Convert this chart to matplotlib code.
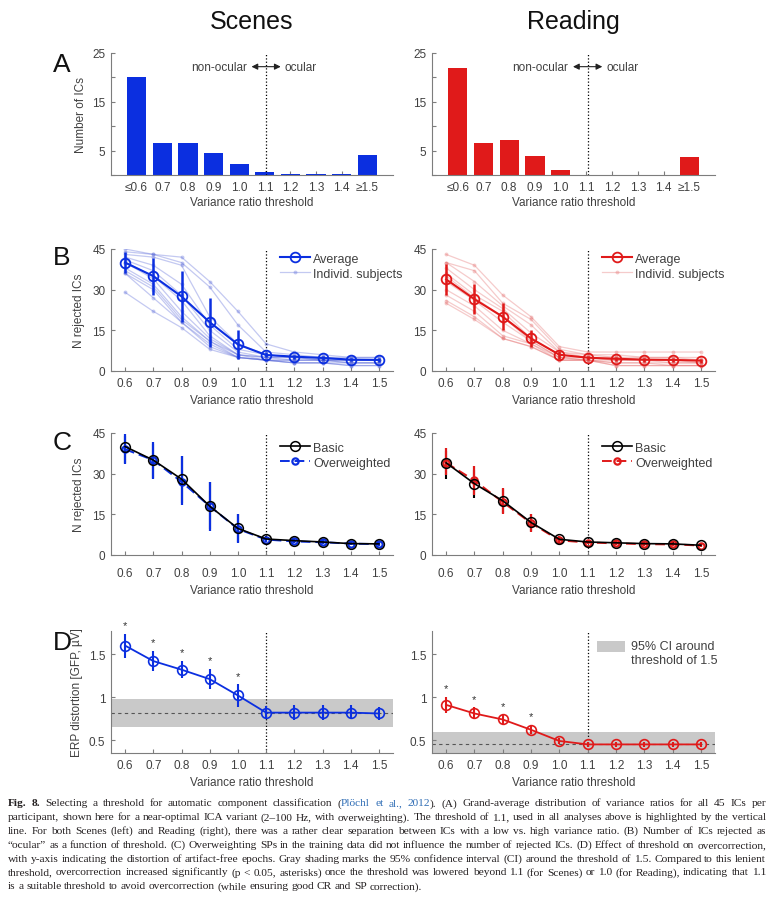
import numpy as np
import matplotlib.pyplot as plt
from matplotlib.lines import Line2D
from matplotlib.patches import Rectangle

plt.rcParams['font.family'] = ['Liberation Sans', 'DejaVu Sans']
plt.rcParams['font.size'] = 8.5

# ---------------- data ----------------
bin_labels = ['≤0.6', '0.7', '0.8', '0.9', '1.0', '1.1', '1.2', '1.3', '1.4', '≥1.5']
scenes_counts = [20.0, 6.5, 6.6, 4.5, 2.2, 0.6, 0.2, 0.3, 0.3, 4.2]
reading_counts = [22.0, 6.6, 7.2, 3.9, 1.1, 0.0, 0.1, 0.1, 0.1, 3.7]

thresholds = [0.6, 0.7, 0.8, 0.9, 1.0, 1.1, 1.2, 1.3, 1.4, 1.5]
tick_labels = ['0.6', '0.7', '0.8', '0.9', '1.0', '1.1', '1.2', '1.3', '1.4', '1.5']

# B: rejected ICs, average +- CI and individual subjects
scenes_avg = [40, 35, 27.5, 18, 9.8, 5.9, 5.3, 4.8, 4.2, 4.1]
scenes_lo = [36, 28, 18, 9, 4.5, 5.0, 4.6, 4.1, 3.6, 3.5]
scenes_hi = [44, 41.5, 37, 27, 15, 6.9, 6.0, 5.5, 4.9, 4.8]
scenes_subjects = [
    [45, 43, 42, 33, 22, 10, 7, 6, 5, 5],
    [44, 43, 40, 31, 17, 7, 6, 5, 5, 5],
    [43, 42, 39, 20, 10, 6, 5, 5, 4, 4],
    [42, 39, 32, 17, 8, 6, 5, 5, 4, 4],
    [41, 37, 28, 15, 7, 5, 5, 4, 4, 4],
    [40, 35, 26, 13, 6, 5, 5, 4, 4, 4],
    [40, 34, 22, 12, 6, 5, 4, 4, 4, 4],
    [38, 32, 20, 11, 6, 4, 4, 4, 3, 3],
    [37, 31, 19, 11, 5, 4, 4, 4, 3, 3],
    [36, 30, 18, 10, 5, 4, 3, 3, 3, 3],
    [36, 27, 18, 9, 5, 4, 3, 3, 2, 2],
    [29, 22, 16, 8, 5, 4, 3, 3, 2, 2],
]
reading_avg = [33.8, 26.5, 20, 12, 6, 4.9, 4.5, 4.2, 4.1, 3.8]
reading_lo = [28, 21, 15, 9, 4.6, 4.2, 3.8, 3.5, 3.4, 3.1]
reading_hi = [39.5, 32, 25, 15, 7.5, 5.6, 5.2, 4.9, 4.8, 4.5]
reading_subjects = [
    [43, 39, 28, 20, 9, 7, 7, 7, 7, 7],
    [40, 37, 25, 19, 8, 6, 6, 5, 5, 5],
    [40, 33, 24, 17, 7, 6, 5, 5, 5, 4],
    [38, 30, 23, 14, 7, 5, 5, 4, 4, 4],
    [36, 28, 22, 12, 6, 5, 4, 4, 4, 4],
    [35, 27, 20, 11, 5, 5, 4, 4, 4, 3],
    [33, 26, 18, 11, 5, 4, 4, 4, 3, 3],
    [30, 24, 15, 10, 5, 4, 3, 3, 3, 3],
    [28, 22, 13, 10, 4, 4, 3, 3, 2, 2],
    [26, 20, 12, 9, 4, 4, 2, 2, 2, 2],
    [25, 19, 12, 9, 4, 4, 2, 2, 2, 2],
]

# C: basic vs overweighted training data
scenes_basic = [40, 35, 28, 18, 9.8, 5.9, 5.3, 4.8, 4.2, 4.1]
scenes_basic_lo = [34, 28.5, 19, 9.5, 4.8, 5.0, 4.6, 4.1, 3.6, 3.5]
scenes_basic_hi = [44, 41, 36.5, 27, 15, 6.9, 6.0, 5.5, 4.9, 4.8]
scenes_over = [39, 35, 27, 18, 9.6, 5.7, 5.0, 4.7, 4.2, 4.0]
scenes_over_lo = [33.5, 28, 18.5, 9, 4.5, 4.9, 4.3, 4.0, 3.6, 3.4]
scenes_over_hi = [44.5, 41.5, 36.5, 27, 15, 6.6, 5.8, 5.4, 4.9, 4.7]
reading_basic = [34, 26.3, 20, 12, 5.8, 4.8, 4.5, 4.2, 4.1, 3.6]
reading_basic_lo = [28, 21, 15.5, 9, 4.8, 4.2, 3.8, 3.5, 3.4, 3.0]
reading_basic_hi = [38.5, 31.5, 24.5, 15, 7, 5.5, 5.2, 4.9, 4.8, 4.3]
reading_over = [34, 27.5, 19.5, 11.8, 5.4, 4.6, 4.3, 4.0, 3.9, 3.5]
reading_over_lo = [29.5, 22, 15, 8.5, 4.0, 4.0, 3.7, 3.4, 3.3, 2.9]
reading_over_hi = [39.5, 33, 24.8, 15.3, 7.0, 5.3, 5.0, 4.7, 4.6, 4.2]

# D: ERP distortion (GFP, uV)
scenes_dist = [1.60, 1.42, 1.32, 1.21, 1.02, 0.82, 0.82, 0.82, 0.82, 0.81]
scenes_dist_lo = [1.46, 1.30, 1.22, 1.10, 0.89, 0.74, 0.73, 0.73, 0.74, 0.73]
scenes_dist_hi = [1.74, 1.54, 1.42, 1.33, 1.15, 0.90, 0.91, 0.91, 0.91, 0.89]
scenes_sig = [1, 1, 1, 1, 1, 0, 0, 0, 0, 0]
scenes_ci = (0.65, 0.82, 0.98)
reading_dist = [0.91, 0.81, 0.74, 0.62, 0.49, 0.45, 0.45, 0.45, 0.45, 0.45]
reading_dist_lo = [0.82, 0.75, 0.68, 0.57, 0.45, 0.42, 0.42, 0.42, 0.42, 0.42]
reading_dist_hi = [1.00, 0.88, 0.80, 0.68, 0.53, 0.48, 0.48, 0.48, 0.48, 0.48]
reading_sig = [1, 1, 1, 1, 0, 0, 0, 0, 0, 0]
reading_ci = (0.34, 0.455, 0.59)

caption_lines = [
    "Fig. 8. Selecting a threshold for automatic component classification (Plöchl et al., 2012). (A) Grand-average distribution of variance ratios for all 45 ICs per",
    "participant, shown here for a near-optimal ICA variant (2–100 Hz, with overweighting). The threshold of 1.1, used in all analyses above is highlighted by the vertical",
    "line. For both Scenes (left) and Reading (right), there was a rather clear separation between ICs with a low vs. high variance ratio. (B) Number of ICs rejected as",
    "“ocular” as a function of threshold. (C) Overweighting SPs in the training data did not influence the number of rejected ICs. (D) Effect of threshold on overcorrection,",
    "with y-axis indicating the distortion of artifact-free epochs. Gray shading marks the 95% confidence interval (CI) around the threshold of 1.5. Compared to this lenient",
    "threshold, overcorrection increased significantly (p < 0.05, asterisks) once the threshold was lowered beyond 1.1 (for Scenes) or 1.0 (for Reading), indicating that 1.1",
    "is a suitable threshold to avoid overcorrection (while ensuring good CR and SP correction).",
]

# ---------------- styling ----------------
blue = '#0b2fe0'
red = '#e01a1a'
blue_light = '#5565d8'
red_light = '#e46a6a'
axis_gray = '#7d7d7d'
text_gray = '#404040'

W, H = 774, 904
fig = plt.figure(figsize=(W / 100, H / 100), dpi=100)


def px_axes(x0, y0, x1, y1):
    return fig.add_axes([x0 / W, 1 - y1 / H, (x1 - x0) / W, (y1 - y0) / H])


def style(ax):
    for s in ['top', 'right']:
        ax.spines[s].set_visible(False)
    for s in ['left', 'bottom']:
        ax.spines[s].set_color(axis_gray)
        ax.spines[s].set_linewidth(0.8)
    ax.tick_params(direction='in', length=3, width=0.8, color=axis_gray,
                   labelcolor=text_gray, labelsize=8.5, pad=4)


def thr_axis(ax, ylab_y=-0.19):
    ax.set_xlim(0.55, 1.55)
    ax.set_xticks(thresholds)
    ax.set_xticklabels(tick_labels)
    ax.axvline(1.1, color='k', ls=':', lw=0.9, zorder=1)
    ax.set_xlabel('Variance ratio threshold', color=text_gray)
    ax.xaxis.set_label_coords(0.5, ylab_y)


cols = [(111, 393), (432, 715)]
rows = {'A': (54, 176), 'B': (250, 372), 'C': (434, 556), 'D': (632, 754)}

# ---- A: histograms ----
for (x0, x1), counts, color in zip(cols, [scenes_counts, reading_counts], [blue, red]):
    ax = px_axes(x0, rows['A'][0], x1, rows['A'][1])
    style(ax)
    ax.set_axisbelow(True)
    pos = np.arange(1, len(counts) + 1)
    ax.bar(pos, counts, width=0.75, color=color, edgecolor='none')
    ax.set_xlim(0, 11)
    ax.set_ylim(0, 25)
    ax.set_yticks([0, 5, 10, 15, 20, 25])
    ax.set_yticklabels(['', '5', '', '15', '', '25'])
    ax.set_xticks(pos)
    ax.set_xticklabels(bin_labels)
    ax.axvline(6.05, color='k', ls=':', lw=0.9)
    ax.annotate('', xy=(5.48, 22.2), xytext=(6.62, 22.2),
                arrowprops=dict(arrowstyle='<|-|>', color='#222222', lw=0.8,
                                mutation_scale=9, shrinkA=0, shrinkB=0))
    ax.text(5.3, 22.2, 'non-ocular', ha='right', va='center', color=text_gray)
    ax.text(6.78, 22.2, 'ocular', ha='left', va='center', color=text_gray)
    ax.set_xlabel('Variance ratio threshold', color=text_gray)
    ax.xaxis.set_label_coords(0.5, -0.17)
    if color == blue:
        ax.set_ylabel('Number of ICs', color=text_gray)
        ax.yaxis.set_label_coords(-0.085, 0.5)

# ---- B: rejected ICs ----
for (x0, x1), subj, avg, lo, hi, color, light in zip(
        cols, [scenes_subjects, reading_subjects], [scenes_avg, reading_avg],
        [scenes_lo, reading_lo], [scenes_hi, reading_hi], [blue, red], [blue_light, red_light]):
    ax = px_axes(x0, rows['B'][0], x1, rows['B'][1])
    style(ax)
    for s in subj:
        ax.plot(thresholds, s, color=light, alpha=0.35, lw=0.9, marker='o', ms=2.8, mew=0, zorder=2)
    ax.vlines(thresholds, lo, hi, color=color, lw=1.8, zorder=3)
    ax.plot(thresholds, avg, color=color, lw=1.5, marker='o', ms=7, mfc='none', mew=1.3, zorder=4)
    ax.set_ylim(0, 45)
    ax.set_yticks([0, 15, 30, 45])
    thr_axis(ax)
    handles = [Line2D([], [], color=color, lw=1.5, marker='o', ms=7, mfc='none', mew=1.3),
               Line2D([], [], color=light, alpha=0.35, lw=0.9, marker='o', ms=2.8, mew=0)]
    ax.legend(handles, ['Average', 'Individ. subjects'], loc='upper left',
              bbox_to_anchor=(0.6, 0.97), frameon=False, borderpad=0, borderaxespad=0,
              handlelength=2.4, handletextpad=0.25, labelspacing=0.25, labelcolor=text_gray,
              fontsize=9)
    if color == blue:
        ax.set_ylabel('N rejected ICs', color=text_gray)
        ax.yaxis.set_label_coords(-0.092, 0.5)

# ---- C: basic vs overweighted ----
for (x0, x1), b, blo, bhi, o, olo, ohi, color in zip(
        cols, [scenes_basic, reading_basic], [scenes_basic_lo, reading_basic_lo],
        [scenes_basic_hi, reading_basic_hi], [scenes_over, reading_over],
        [scenes_over_lo, reading_over_lo], [scenes_over_hi, reading_over_hi], [blue, red]):
    ax = px_axes(x0, rows['C'][0], x1, rows['C'][1])
    style(ax)
    ax.vlines(thresholds, blo, bhi, color='k', lw=1.5, zorder=2)
    ax.vlines(thresholds, olo, ohi, color=color, lw=1.6, zorder=3)
    ax.plot(thresholds, o, color=color, lw=1.4, ls=(0, (5, 2.5)), marker='o', ms=4.5,
            mfc='none', mew=1.6, zorder=4)
    ax.plot(thresholds, b, color='k', lw=1.2, marker='o', ms=7, mfc='none', mew=1.1, zorder=5)
    ax.set_ylim(0, 45)
    ax.set_yticks([0, 15, 30, 45])
    thr_axis(ax, -0.24)
    ax.tick_params(axis='x', pad=9)
    handles = [Line2D([], [], color='k', lw=1.2, marker='o', ms=7, mfc='none', mew=1.1),
               Line2D([], [], color=color, lw=1.4, ls=(0, (5, 2.5)), marker='o', ms=4.5,
                      mfc='none', mew=1.6)]
    ax.legend(handles, ['Basic', 'Overweighted'], loc='upper left',
              bbox_to_anchor=(0.6, 0.93), frameon=False, borderpad=0, borderaxespad=0,
              handlelength=2.4, handletextpad=0.25, labelspacing=0.25, labelcolor=text_gray,
              fontsize=9)
    if color == blue:
        ax.set_ylabel('N rejected ICs', color=text_gray)
        ax.yaxis.set_label_coords(-0.092, 0.5)

# ---- D: overcorrection ----
for (x0, x1), d, dlo, dhi, sig, ci, color in zip(
        cols, [scenes_dist, reading_dist], [scenes_dist_lo, reading_dist_lo],
        [scenes_dist_hi, reading_dist_hi], [scenes_sig, reading_sig],
        [scenes_ci, reading_ci], [blue, red]):
    ax = px_axes(x0, rows['D'][0], x1, rows['D'][1])
    style(ax)
    ax.axhspan(ci[0], ci[2], color='#c9c9c9', lw=0, zorder=0)
    ax.axhline(ci[1], color='#555555', ls=(0, (3, 3)), lw=0.8, zorder=1)
    ax.vlines(thresholds, dlo, dhi, color=color, lw=1.5, zorder=3)
    ax.plot(thresholds, d, color=color, lw=1.3, marker='o', ms=7, mfc='none', mew=1.2, zorder=4)
    for x, h, s in zip(thresholds, dhi, sig):
        if s:
            ax.text(x, h + 0.1, '*', ha='center', va='center', fontsize=8,
                    color='#333333', clip_on=False)
    ax.set_ylim(0.35, 1.77)
    ax.set_yticks([0.5, 1, 1.5])
    ax.set_yticklabels(['0.5', '1', '1.5'])
    thr_axis(ax)
    if color == blue:
        ax.set_ylabel('ERP distortion [GFP, µV]', color=text_gray)
        ax.yaxis.set_label_coords(-0.1, 0.5)
    else:
        ax.add_patch(Rectangle((0.583, 0.828), 0.099, 0.09, transform=ax.transAxes,
                               facecolor='#c9c9c9', edgecolor='none', clip_on=False))
        ax.text(0.703, 0.93, '95% CI around\nthreshold of 1.5', transform=ax.transAxes,
                ha='left', va='top', color=text_gray, linespacing=1.25, fontsize=9)

# titles and panel letters
fig.text(252 / W, 1 - 22 / H, 'Scenes', ha='center', va='center', fontsize=18, color='#111111')
fig.text(573 / W, 1 - 22 / H, 'Reading', ha='center', va='center', fontsize=18, color='#111111')
for letter, yc in zip(['A', 'B', 'C', 'D'], [65, 258, 443, 643]):
    fig.text(62 / W, 1 - yc / H, letter, ha='center', va='center', fontsize=19, color='#111111')

# ---------------- caption, justified ----------------
link = '#2f6db5'
ink = '#231f20'
special = {
    0: 'bold', 1: 'bold',
    9: [('(', ink), ('Plöchl', link)], 10: [('et', link)], 11: [('al.,', link)],
    12: [('2012', link), (').', ink)],
}
renderer = fig.canvas.get_renderer()
cap_x0, cap_x1 = 8, 766
start_size = 8.0
lines_items = []
for li, line in enumerate(caption_lines):
    y_base = 806.5 + li * 13.8
    items = []
    for wi, w in enumerate(line.split(' ')):
        pieces = [(w, ink)]
        weight = 'normal'
        if li == 0 and wi in special:
            if special[wi] == 'bold':
                weight = 'bold'
            else:
                pieces = special[wi]
        items.append([fig.text(0, 1 - y_base / H, p, color=c, fontsize=start_size, weight=weight,
                               family='Liberation Serif', ha='left', va='baseline')
                      for p, c in pieces])
    lines_items.append(items)


def natural_width(items, size):
    ws = sum(t.get_window_extent(renderer).width for ts in items for t in ts)
    return ws + (len(items) - 1) * size * 0.25 * 100 / 72


# pick one font size so the widest full line fits with ordinary spaces
widest = max(natural_width(it, start_size) for it in lines_items[:-1])
cap_size = start_size * (cap_x1 - cap_x0) / widest
for items in lines_items:
    for ts in items:
        for t in ts:
            t.set_fontsize(cap_size)

for li, items in enumerate(lines_items):
    widths = [[t.get_window_extent(renderer).width for t in ts] for ts in items]
    total = sum(sum(ws) for ws in widths)
    if li < len(lines_items) - 1:
        gap = (cap_x1 - cap_x0 - total) / (len(items) - 1)
    else:
        gap = cap_size * 0.25 * 100 / 72
    x = cap_x0
    for ts, ws in zip(items, widths):
        for t, wd in zip(ts, ws):
            t.set_x(x / W)
            x += wd
        x += gap

fig.savefig('out.png', dpi=100)
